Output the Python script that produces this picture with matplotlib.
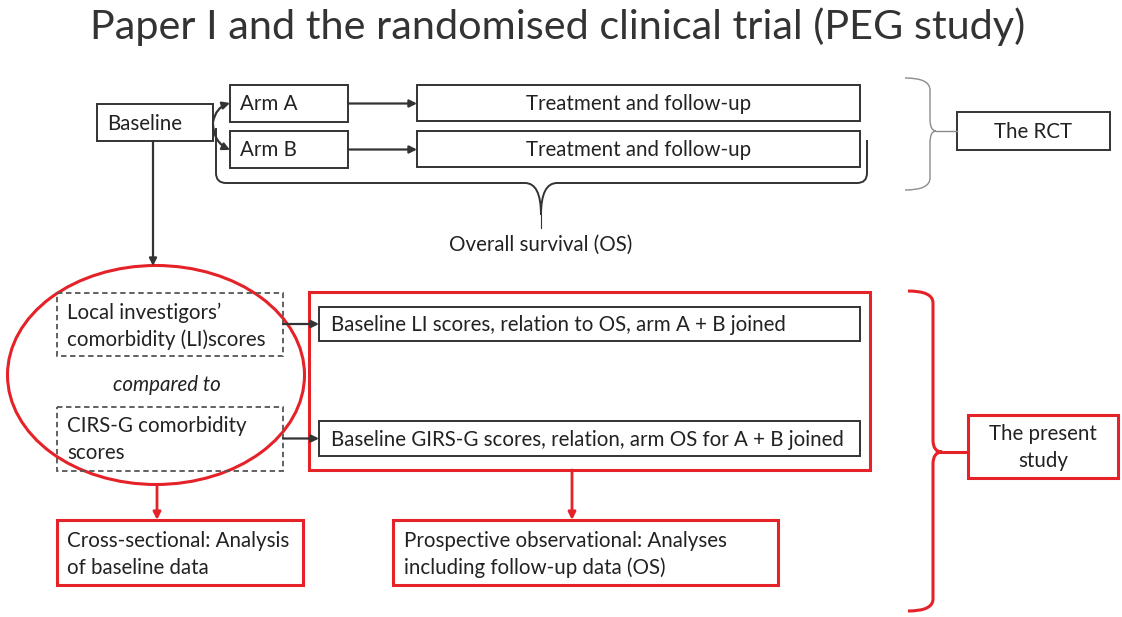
import matplotlib.pyplot as plt
from matplotlib.patches import Rectangle, Ellipse, PathPatch
from matplotlib.path import Path

plt.rcParams['font.family'] = ['Lato', 'DejaVu Sans']

RED = '#e52228'
DARK = '#333333'
GREY = '#8c8c8c'
TXT = '#222222'

# -------------------------------------------------
# Texts of the diagram
# -------------------------------------------------
title = "Paper I and the randomised clinical trial (PEG study)"
baseline_label = "Baseline"
arm_labels = ["Arm A", "Arm B"]
treat_label = "Treatment and follow-up"
rct_label = "The RCT"
os_label = "Overall survival (OS)"
li_lines = ["Local investigors\u2019", "comorbidity (LI)scores"]
compared_label = "compared to"
cirs_lines = ["CIRS-G comorbidity", "scores"]
relation_labels = ["Baseline LI scores, relation to OS, arm A + B joined",
                   "Baseline GIRS-G scores, relation, arm OS for A + B joined"]
cross_lines = ["Cross-sectional: Analysis", "of baseline data"]
prosp_lines = ["Prospective observational: Analyses", "including follow-up data (OS)"]
present_lines = ["The present", "study"]

# -------------------------------------------------
# Canvas in pixel coordinates
# -------------------------------------------------
fig = plt.figure(figsize=(11.22, 6.17), dpi=100)
ax = fig.add_axes([0, 0, 1, 1])
ax.set_xlim(0, 1122)
ax.set_ylim(617, 0)
ax.axis('off')

FS = 14.8


def box(x0, y0, x1, y1, color=DARK, lw=1.4, ls='-'):
    ax.add_patch(Rectangle((x0, y0), x1 - x0, y1 - y0, fill=False,
                           edgecolor=color, lw=lw, linestyle=ls))


def arrow(x0, y0, x1, y1, color=DARK, lw=1.6, rad=0.0):
    ax.annotate('', xy=(x1, y1), xytext=(x0, y0),
                arrowprops=dict(arrowstyle='-|>', color=color, lw=lw,
                                shrinkA=0, shrinkB=0, mutation_scale=11,
                                connectionstyle=f'arc3,rad={rad}'))


def lines(x, y0, txts, dy=27, ha='left', **kw):
    for i, t in enumerate(txts):
        ax.text(x, y0 + i * dy, t, ha=ha, va='center', fontsize=FS,
                color=TXT, **kw)


def brace_right(x0, xs, xt, ytop, ymid, ybot, color, lw, r=12):
    verts = [(x0, ytop), (xs, ytop), (xs, ytop + r),
             (xs, ymid - r), (xs, ymid), (xt, ymid),
             (xs, ymid), (xs, ymid + r),
             (xs, ybot - r), (xs, ybot), (x0, ybot)]
    codes = [Path.MOVETO, Path.CURVE3, Path.CURVE3,
             Path.LINETO, Path.CURVE3, Path.CURVE3,
             Path.CURVE3, Path.CURVE3,
             Path.LINETO, Path.CURVE3, Path.CURVE3]
    ax.add_patch(PathPatch(Path(verts, codes), fill=False,
                           edgecolor=color, lw=lw))


# title
ax.text(558, 27, title, ha='center', va='center', fontsize=29.8,
        fontweight='normal', color='#333333')

# -------------------------------------------------
# RCT part
# -------------------------------------------------
box(97, 104, 213, 141)
ax.text(107, 124, baseline_label, ha='left', va='center', fontsize=FS, color=TXT)

arm_y = [(85, 122), (131, 168)]
for lab, (y0, y1) in zip(arm_labels, arm_y):
    box(230, y0, 348, y1)
    ax.text(240, (y0 + y1) / 2 + 1, lab, ha='left', va='center', fontsize=FS, color=TXT)
    box(417, y0, 860, y1 - 1)
    ax.text(639, (y0 + y1) / 2 + 1, treat_label, ha='center', va='center',
            fontsize=FS, color=TXT)
    arrow(348, (y0 + y1) / 2, 417, (y0 + y1) / 2)

arrow(213, 122, 230, 103, rad=-0.3)
arrow(213, 124, 230, 150, rad=0.3)

# bracket under both arms
r, r2 = 10, 16
verts = [(216, 128), (216, 183 - r), (216, 183), (216 + r, 183),
         (541 - r2, 183), (541, 183), (541, 215),
         (541, 183), (541 + r2, 183),
         (867 - r, 183), (867, 183), (867, 183 - r), (867, 140)]
codes = [Path.MOVETO, Path.LINETO, Path.CURVE3, Path.CURVE3,
         Path.LINETO, Path.CURVE3, Path.CURVE3,
         Path.CURVE3, Path.CURVE3,
         Path.LINETO, Path.CURVE3, Path.CURVE3, Path.LINETO]
ax.add_patch(PathPatch(Path(verts, codes), fill=False, edgecolor=DARK, lw=1.4))
ax.plot([541, 541], [215, 228], color=DARK, lw=0.8)
ax.text(541, 245, os_label, ha='center', va='center', fontsize=FS, color=TXT)

# RCT brace + label
brace_right(905, 930, 936, 78, 131, 190, GREY, 1.0, r=12)
ax.plot([936, 957], [131, 131], color=GREY, lw=1.0)
box(957, 112, 1110, 150)
ax.text(1033, 132, rct_label, ha='center', va='center', fontsize=FS, color=TXT)

# arrow down to present study
arrow(153, 141, 153, 266)

# -------------------------------------------------
# Present study part
# -------------------------------------------------
ax.add_patch(Ellipse((156, 375), 297, 219, fill=False, edgecolor=RED, lw=2.2))

box(57, 293, 283, 356, color='#555555', lw=1.3, ls=(0, (3, 2)))
lines(67, 313, li_lines)
ax.text(167, 385, compared_label, ha='center', va='center', fontsize=FS,
        style='italic', color=TXT)
box(57, 407, 283, 471, color='#555555', lw=1.3, ls=(0, (3, 2)))
lines(67, 426, cirs_lines)

box(309, 292, 870, 470, color=RED, lw=2.2)
rel_y = [(307, 341), (421, 456)]
for lab, (y0, y1) in zip(relation_labels, rel_y):
    box(319, y0, 860, y1)
    ax.text(331, (y0 + y1) / 2 + 1, lab, ha='left', va='center', fontsize=FS, color=TXT)
    arrow(283, (y0 + y1) / 2, 319, (y0 + y1) / 2)

# outcome boxes
arrow(157, 485, 157, 520, color=RED, lw=2.0)
box(57, 520, 303, 585, color=RED, lw=2.2)
lines(67, 541, cross_lines)

arrow(572, 470, 572, 520, color=RED, lw=2.0)
box(393, 520, 778, 585, color=RED, lw=2.2)
lines(404, 541, prosp_lines)

# present study brace + label
brace_right(908, 933, 942, 291, 452, 611, RED, 2.2, r=12)
ax.plot([942, 968], [452, 452], color=RED, lw=2.2)
box(968, 415, 1118, 478, color=RED, lw=2.2)
lines(1043, 434, present_lines, ha='center')

plt.savefig("out.png", dpi=100)
